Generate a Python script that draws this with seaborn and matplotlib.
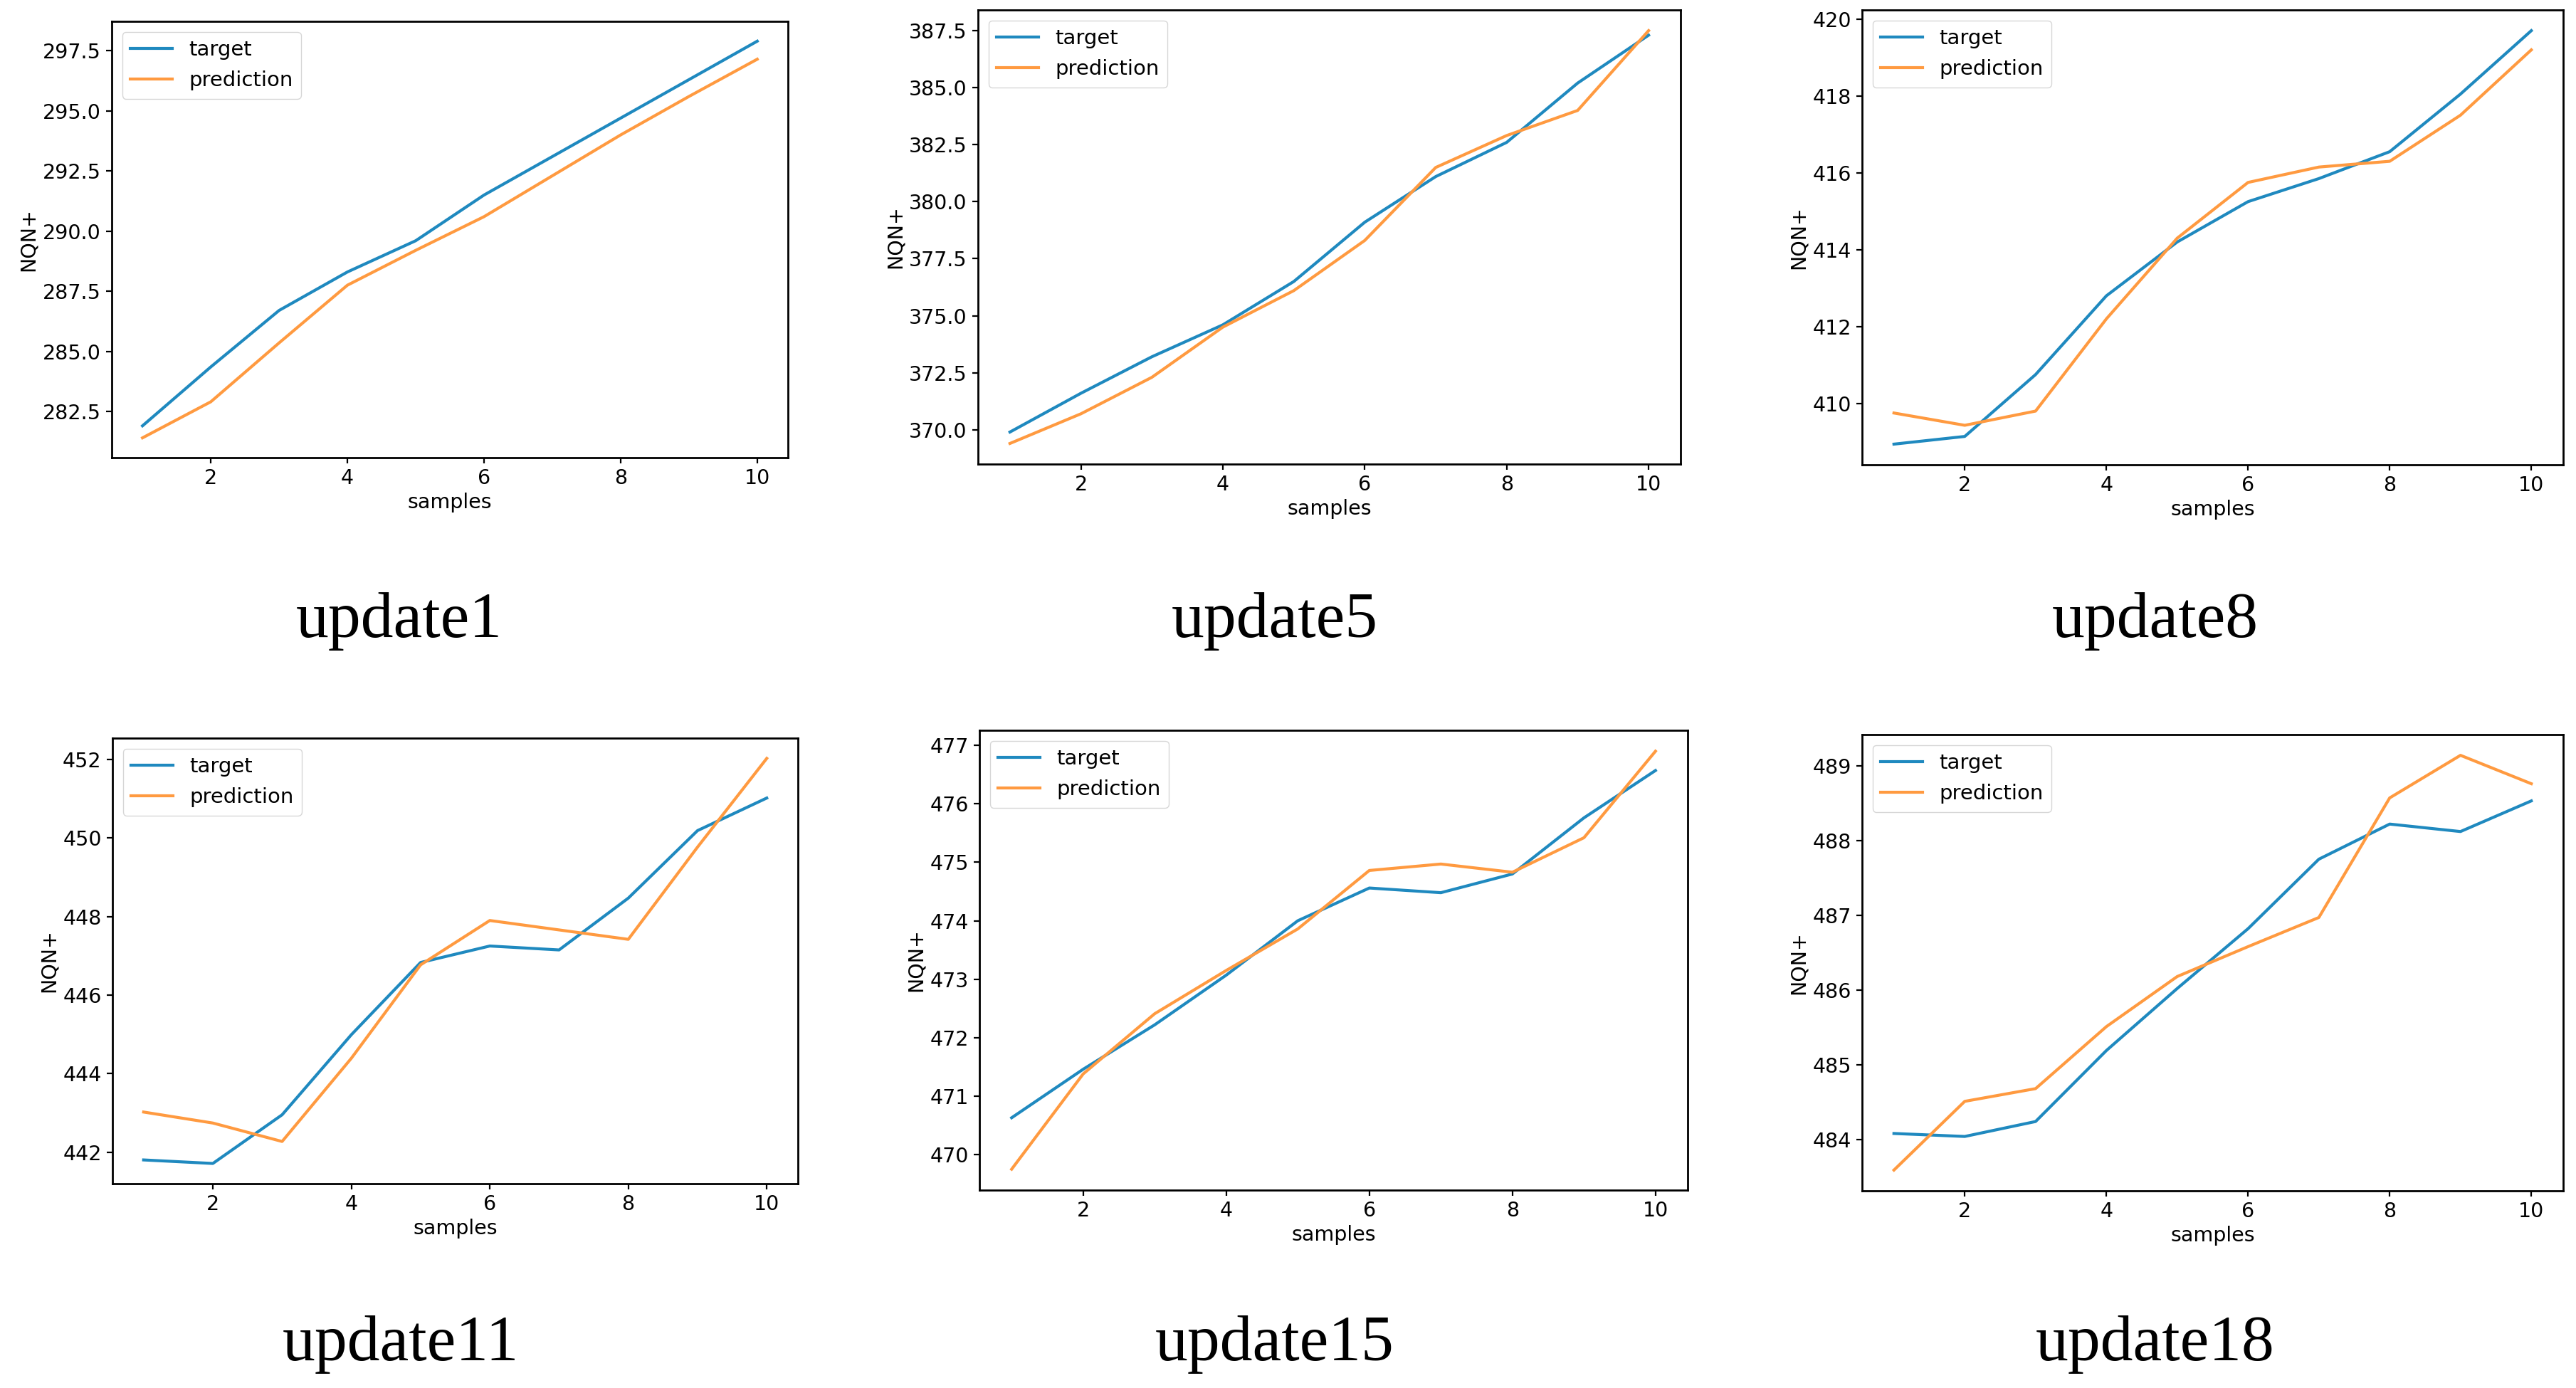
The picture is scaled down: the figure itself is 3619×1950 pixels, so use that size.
import numpy as np
import pandas as pd
import matplotlib
matplotlib.use("Agg")
import matplotlib.pyplot as plt
import seaborn as sns

# values
samples = list(range(1, 11))

update1_target = [281.9, 284.35, 286.7, 288.3, 289.6, 291.5, 293.1, 294.7, 296.3, 297.9]
update1_pred = [281.4, 282.9, 285.35, 287.75, 289.2, 290.6, 292.3, 294.0, 295.6, 297.15]

update5_target = [369.9, 371.6, 373.2, 374.6, 376.5, 379.1, 381.1, 382.6, 385.2, 387.3]
update5_pred = [369.4, 370.7, 372.3, 374.5, 376.1, 378.3, 381.5, 382.9, 384.0, 387.5]

update8_target = [408.94, 409.14, 410.75, 412.8, 414.2, 415.25, 415.85, 416.55, 418.05, 419.7]
update8_pred = [409.75, 409.43, 409.8, 412.2, 414.3, 415.75, 416.15, 416.3, 417.5, 419.2]

update11_target = [441.8, 441.71, 442.95, 444.99, 446.83, 447.25, 447.15, 448.47, 450.19, 451.02]
update11_pred = [443.02, 442.74, 442.27, 444.39, 446.77, 447.9, 447.66, 447.42, 449.77, 452.03]

update15_target = [470.63, 471.46, 472.22, 473.07, 474.0, 474.56, 474.48, 474.8, 475.76, 476.57]
update15_pred = [469.75, 471.38, 472.41, 473.15, 473.86, 474.86, 474.97, 474.83, 475.42, 476.9]

update18_target = [484.08, 484.04, 484.24, 485.19, 486.02, 486.82, 487.75, 488.22, 488.12, 488.53]
update18_pred = [483.59, 484.51, 484.68, 485.51, 486.18, 486.58, 486.97, 488.57, 489.14, 488.76]

panel_names = ["update1", "update5", "update8", "update11", "update15", "update18"]
targets = [update1_target, update5_target, update8_target,
           update11_target, update15_target, update18_target]
preds = [update1_pred, update5_pred, update8_pred,
         update11_pred, update15_pred, update18_pred]

xtick_values = [2, 4, 6, 8, 10]
ytick_values = [
    [282.5, 285.0, 287.5, 290.0, 292.5, 295.0, 297.5],
    [370.0, 372.5, 375.0, 377.5, 380.0, 382.5, 385.0, 387.5],
    [410, 412, 414, 416, 418, 420],
    [442, 444, 446, 448, 450, 452],
    [470, 471, 472, 473, 474, 475, 476, 477],
    [484, 485, 486, 487, 488, 489],
]
ytick_fmt = ["{:.1f}", "{:.1f}", "{:d}", "{:d}", "{:d}", "{:d}"]

W, H = 3619, 1950
# axes boxes in pixels: left, right, top, bottom
boxes = [
    (157, 1107, 30, 643),
    (1374, 2361, 14, 652),
    (2616, 3601, 14, 653),
    (158, 1121, 1037, 1663),
    (1376, 2371, 1026, 1672),
    (2616, 3601, 1032, 1673),
]
# caption centres (x) and baselines (y) in pixels
captions_xy = [(561, 895), (1791, 895), (3028, 895),
               (563, 1911), (1791, 1911), (3028, 1911)]

palette = {"target": "#1f89bf", "prediction": "#ff9a40"}

plt.rcParams.update({
    "font.family": ["DejaVu Sans"],
    "font.size": 20.5,
    "axes.linewidth": 2.0,
    "xtick.major.size": 6,
    "ytick.major.size": 6,
    "xtick.major.width": 1.6,
    "ytick.major.width": 1.6,
    "xtick.major.pad": 5,
    "ytick.major.pad": 5,
})

fig = plt.figure(figsize=(W / 100, H / 100), dpi=100)

for i, name in enumerate(panel_names):
    l, r, t, b = boxes[i]
    ax = fig.add_axes([l / W, 1 - b / H, (r - l) / W, (b - t) / H])

    df = pd.DataFrame({
        "samples": samples * 2,
        "NQN+": targets[i] + preds[i],
        "series": ["target"] * len(samples) + ["prediction"] * len(samples),
    })
    sns.lineplot(data=df, x="samples", y="NQN+", hue="series",
                 palette=palette, linewidth=3.0, ax=ax)

    ax.set_xticks(xtick_values)
    ax.set_yticks(ytick_values[i])
    ax.set_yticklabels([ytick_fmt[i].format(v) for v in ytick_values[i]])
    ax.tick_params(labelsize=20.5)
    ax.set_xlabel("samples", fontsize=20.5)
    ax.set_ylabel("NQN+", fontsize=20.5)

    handles, labels = ax.get_legend_handles_labels()
    ax.legend(handles, labels, loc="upper left", fontsize=21, title=None)

    cx, cy = captions_xy[i]
    fig.text(cx / W, 1 - cy / H, name, ha="center", va="baseline",
             fontsize=66, family=["Liberation Serif", "DejaVu Serif"])

fig.savefig("out.png", dpi=100, facecolor="white")
